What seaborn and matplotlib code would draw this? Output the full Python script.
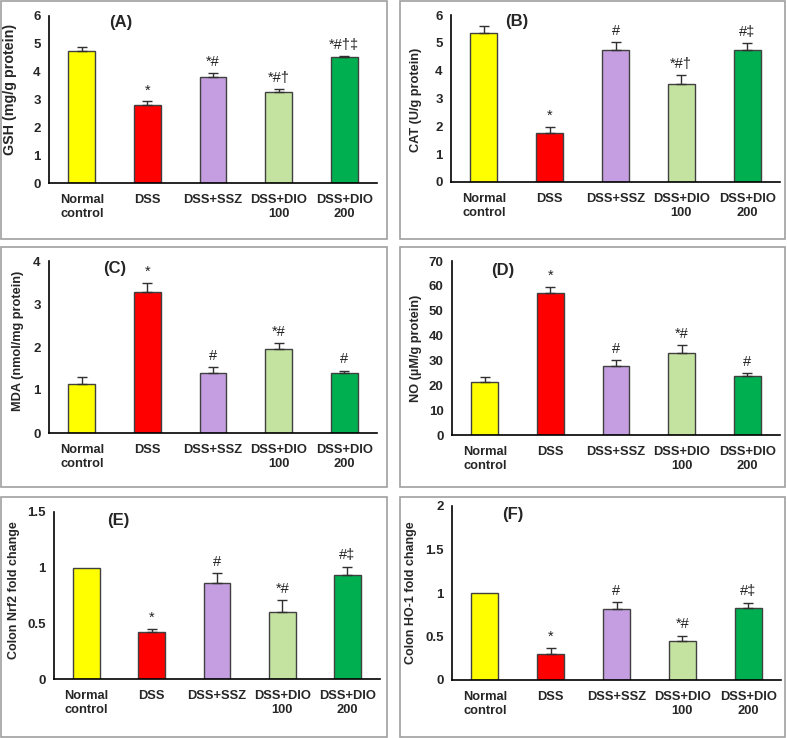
import matplotlib
matplotlib.use("Agg")
import matplotlib.pyplot as plt
import seaborn as sns
import pandas as pd
import numpy as np
from matplotlib.patches import Rectangle

sns.set_style("white")
plt.rcParams['font.family'] = ['Liberation Sans', 'DejaVu Sans']

groups = ["Normal\ncontrol", "DSS", "DSS+SSZ", "DSS+DIO\n100", "DSS+DIO\n200"]
colors = ["#FFFF00", "#FF0000", "#C49EE0", "#C5E3A0", "#00B050"]

gsh_mean = [4.75, 2.82, 3.80, 3.27, 4.51]
gsh_err = [0.12, 0.11, 0.15, 0.11, 0.04]
gsh_sig = ["", "*", "*#", "*#†", "*#†‡"]

cat_mean = [5.36, 1.75, 4.75, 3.53, 4.73]
cat_err = [0.25, 0.23, 0.28, 0.32, 0.25]
cat_sig = ["", "*", "#", "*#†", "#‡"]

mda_mean = [1.13, 3.27, 1.40, 1.95, 1.39]
mda_err = [0.17, 0.23, 0.13, 0.15, 0.06]
mda_sig = ["", "*", "#", "*#", "#"]

no_mean = [21.3, 57.3, 27.9, 32.8, 23.7]
no_err = [2.2, 2.1, 2.4, 3.5, 1.1]
no_sig = ["", "*", "#", "*#", "#"]

nrf2_mean = [1.00, 0.42, 0.86, 0.60, 0.93]
nrf2_err = [0.0, 0.03, 0.09, 0.11, 0.08]
nrf2_sig = ["", "*", "#", "*#", "#‡"]

ho1_mean = [1.00, 0.30, 0.82, 0.45, 0.83]
ho1_err = [0.0, 0.07, 0.08, 0.06, 0.06]
ho1_sig = ["", "*", "#", "*#", "#‡"]

W, H = 787, 738
fig = plt.figure(figsize=(W / 100, H / 100), dpi=100)

# panel frames (pixels: x0, y0, x1, y1)
frames = [(1, 1, 387, 239), (400, 1, 785, 239),
          (1, 247, 387, 487), (400, 247, 785, 487),
          (1, 497, 387, 737), (400, 497, 785, 737)]
for x0, y0, x1, y1 in frames:
    fig.patches.append(Rectangle((x0 / W, 1 - y1 / H), (x1 - x0) / W, (y1 - y0) / H,
                                 transform=fig.transFigure, fill=False,
                                 edgecolor="#A0A0A0", linewidth=1.2))

panels = [
    dict(box=(49, 16, 377, 183), mean=gsh_mean, err=gsh_err, sig=gsh_sig, ymax=6, step=1,
         ylabel="GSH (mg/g protein)", ylsize=10.3, ylpos=(-0.098, 0.56),
         tag="(A)", tagpos=(0.6, 5.75), fmt="{:.0f}"),
    dict(box=(451, 15, 780, 182), mean=cat_mean, err=cat_err, sig=cat_sig, ymax=6, step=1,
         ylabel="CAT (U/g protein)", ylsize=9.2, ylpos=(-0.088, 0.49),
         tag="(B)", tagpos=(0.5, 5.75), fmt="{:.0f}"),
    dict(box=(49, 261, 377, 433), mean=mda_mean, err=mda_err, sig=mda_sig, ymax=4, step=1,
         ylabel="MDA (nmol/mg protein)", ylsize=9.2, ylpos=(-0.075, 0.535),
         tag="(C)", tagpos=(0.5, 3.82), fmt="{:.0f}"),
    dict(box=(452, 261, 780, 435), mean=no_mean, err=no_err, sig=no_sig, ymax=70, step=10,
         ylabel="NO (µM/g protein)", ylsize=9.2, ylpos=(-0.091, 0.5),
         tag="(D)", tagpos=(0.28, 66), fmt="{:.0f}"),
    dict(box=(54, 512, 380, 679), mean=nrf2_mean, err=nrf2_err, sig=nrf2_sig, ymax=1.5, step=0.5,
         ylabel="Colon Nrf2 fold change", ylsize=9, ylpos=(-0.104, 0.53),
         tag="(E)", tagpos=(0.48, 1.42), fmt="{:g}"),
    dict(box=(452, 506, 781, 680), mean=ho1_mean, err=ho1_err, sig=ho1_sig, ymax=2, step=0.5,
         ylabel="Colon HO-1 fold change", ylsize=9, ylpos=(-0.106, 0.5),
         tag="(F)", tagpos=(0.43, 1.9), fmt="{:g}"),
]

for p in panels:
    x0, y0, x1, y1 = p["box"]
    ax = fig.add_axes([x0 / W, 1 - y1 / H, (x1 - x0) / W, (y1 - y0) / H])
    df = pd.DataFrame({"group": groups, "value": p["mean"]})
    sns.barplot(data=df, x="group", y="value", hue="group", palette=colors,
                saturation=1, legend=False, ax=ax, width=0.41,
                edgecolor="#404040", linewidth=1.0, errorbar=None)
    idx = [i for i, e in enumerate(p["err"]) if e > 0]
    ax.errorbar(idx, [p["mean"][i] for i in idx],
                yerr=[[0] * len(idx), [p["err"][i] for i in idx]], fmt="none",
                ecolor="#303030", elinewidth=1.0, capsize=3.5, capthick=1.0, zorder=1)
    for i, (m, e, s) in enumerate(zip(p["mean"], p["err"], p["sig"])):
        if s:
            ax.annotate(s, (i, m + e), xytext=(0, 3), textcoords="offset points",
                        ha="center", va="bottom", fontsize=10.5, color="#222222")
    ax.text(p["tagpos"][0], p["tagpos"][1], p["tag"], ha="center", va="center",
            fontsize=12, fontweight="bold")
    ax.set_xlim(-0.5, 4.5)
    ax.set_ylim(0, p["ymax"])
    ticks = np.arange(0, p["ymax"] + p["step"] / 2, p["step"])
    ax.set_yticks(ticks)
    ax.set_yticklabels([p["fmt"].format(t) for t in ticks], fontsize=9.5, fontweight="bold")
    ax.set_xticks(range(5))
    ax.set_xticklabels(groups, fontsize=9.3, fontweight="bold", linespacing=1.2)
    ax.tick_params(axis="x", length=0, pad=8)
    ax.set_xticks(np.arange(-0.5, 5.0, 1.0), minor=True)
    ax.tick_params(axis="x", which="minor", length=4, width=1.2, direction="out")
    ax.tick_params(axis="y", length=4, width=1.2, direction="out", pad=2)
    ax.set_xlabel("")
    ax.set_ylabel(p["ylabel"], fontsize=p["ylsize"], fontweight="bold")
    ax.yaxis.set_label_coords(*p["ylpos"])
    for side in ["top", "right"]:
        ax.spines[side].set_visible(False)
    for side in ["left", "bottom"]:
        ax.spines[side].set_linewidth(1.2)
        ax.spines[side].set_color("black")
    ax.set_facecolor("white")

fig.savefig("out.png", dpi=100, facecolor="white")
